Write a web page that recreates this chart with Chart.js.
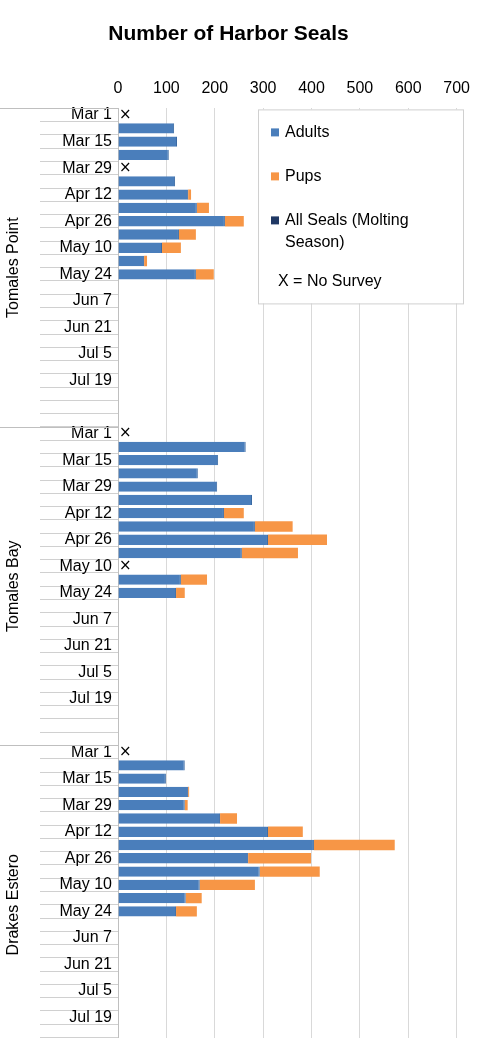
<!DOCTYPE html>
<html><head><meta charset="utf-8">
<script src="https://cdn.jsdelivr.net/npm/chart.js@4/dist/chart.umd.min.js"></script>
<style>html,body{margin:0;padding:0;background:#fff;overflow:hidden}#wrap{width:480px;height:1064px}</style>
</head><body><div id="wrap"><canvas id="c"></canvas></div>
<script>
const groups = ["Tomales Point","Tomales Bay","Drakes Estero"];
const dates = ["Mar 1","Mar 8","Mar 15","Mar 22","Mar 29","Apr 5","Apr 12","Apr 19","Apr 26","May 3","May 10","May 17","May 24","May 31","Jun 7","Jun 14","Jun 21","Jun 28","Jul 5","Jul 12","Jul 19","Jul 26","Aug 2","Aug 9"];
const shownLabels = ["Mar 1","Mar 15","Mar 29","Apr 12","Apr 26","May 10","May 24","Jun 7","Jun 21","Jul 5","Jul 19"];
const adultsTP = [null,116,122,105,null,118,145,163,221,126,91,54,161];
const pupsTP   = [null,0,0,0,null,0,6,25,39,35,39,6,37];
const adultsTB = [null,264,207,165,205,277,219,283,310,256,null,130,120];
const pupsTB   = [null,0,0,0,0,0,41,78,122,116,null,54,18];
const adultsDE = [null,138,99,145,138,211,310,405,269,293,169,140,120];
const pupsDE   = [null,0,0,2,6,35,72,167,130,124,114,33,43];
const noSurveyTP = ["Mar 1","Mar 29"];
const noSurveyTB = ["Mar 1","May 10"];
const noSurveyDE = ["Mar 1"];
const xTicks = [0,100,200,300,400,500,600,700];

const N = dates.length;
const labels = [];
groups.forEach(g => dates.forEach(d => labels.push(g + "|" + d)));
function pad(a){ const r = a.slice(); while (r.length < N) r.push(null); return r; }
const adults = [].concat(pad(adultsTP), pad(adultsTB), pad(adultsDE));
const pups = [].concat(pad(pupsTP), pad(pupsTB), pad(pupsDE));
const molting = labels.map(() => null);
const noSurvey = [noSurveyTP, noSurveyTB, noSurveyDE];

const overlay = {
  id: 'overlay',
  afterDraw(chart) {
    const ctx = chart.ctx, y = chart.scales.y, x = chart.scales.x, ca = chart.chartArea;
    const step = y.getPixelForValue(1) - y.getPixelForValue(0);
    ctx.save();
    ctx.strokeStyle = '#bfbfbf'; ctx.lineWidth = 1;
    groups.forEach((g, gi) => {
      const top = y.getPixelForValue(gi * N) - step / 2;
      ctx.beginPath(); ctx.moveTo(0, Math.round(top) + 0.5); ctx.lineTo(ca.left, Math.round(top) + 0.5); ctx.stroke();
      const mid = top + step * N / 2;
      ctx.save(); ctx.translate(14, mid); ctx.rotate(-Math.PI / 2);
      ctx.fillStyle = '#000'; ctx.font = '16px "Liberation Sans", Arial'; ctx.textAlign = 'center'; ctx.textBaseline = 'middle';
      ctx.fillText(g, 0, 0); ctx.restore();
      ctx.fillStyle = '#000'; ctx.font = '15px "DejaVu Sans"'; ctx.textAlign = 'left'; ctx.textBaseline = 'middle';
      noSurvey[gi].forEach(d => {
        const idx = gi * N + dates.indexOf(d);
        ctx.fillText('×', x.getPixelForValue(0) + 1, y.getPixelForValue(idx));
      });
    });
    const lx = 258, ly = ca.top + 1, lw = 205, lh = 194;
    ctx.fillStyle = '#fff'; ctx.fillRect(lx, ly, lw, lh);
    ctx.strokeStyle = '#d0d0d0'; ctx.strokeRect(lx + 0.5, ly + 0.5, lw, lh);
    ctx.font = '16px "Liberation Sans", Arial'; ctx.textBaseline = 'middle'; ctx.textAlign = 'left';
    const items = [['#4a7ebb', ['Adults'], 23], ['#f79646', ['Pups'], 67], ['#1f3864', ['All Seals (Molting', 'Season)'], 111]];
    items.forEach(([c, t, dy]) => {
      ctx.fillStyle = c; ctx.fillRect(lx + 13, ly + dy - 4, 8, 8);
      ctx.fillStyle = '#000';
      t.forEach((s, i) => ctx.fillText(s, lx + 27, ly + dy + i * 22));
    });
    ctx.fillText('X = No Survey', lx + 20, ly + 172);
    ctx.restore();
  }
};

new Chart(document.getElementById('c'), {
  type: 'bar',
  data: { labels, datasets: [
    { label: 'Adults', data: adults, backgroundColor: '#4a7ebb', borderColor: '#3b6aa3', borderWidth: {right:1}, stack: 's' },
    { label: 'Pups', data: pups, backgroundColor: '#f79646', stack: 's' },
    { label: 'All Seals (Molting Season)', data: molting, backgroundColor: '#1f3864', stack: 's' }
  ]},
  options: {
    indexAxis: 'y', responsive: true, maintainAspectRatio: false, animation: false,
    barPercentage: 0.82, categoryPercentage: 0.95,
    layout: { padding: { left: 0, right: 23, top: 12, bottom: 0 } },
    plugins: {
      legend: { display: false }, tooltip: { enabled: false },
      title: { display: true, text: 'Number of Harbor Seals', color: '#000',
        font: { family: '"Liberation Sans", Arial', size: 21, weight: 'bold' }, padding: { top: 10, bottom: 22 } }
    },
    scales: {
      x: { position: 'top', min: 0, max: 700, afterBuildTicks: a => { a.ticks = xTicks.map(v => ({ value: v })); },
        grid: { color: '#d9d9d9', drawTicks: false }, border: { display: false },
        ticks: { color: '#000', padding: 10, font: { family: '"Liberation Sans", Arial', size: 16 } } },
      y: { stacked: true, offset: true,
        afterFit: a => { a.width = 118; },
        grid: { offset: true, drawOnChartArea: false, color: '#d0d0d0', tickLength: 78 },
        border: { display: true, color: '#bfbfbf' },
        ticks: { autoSkip: false, color: '#000', padding: -72,
          font: { family: '"Liberation Sans", Arial', size: 16 },
          callback: (v, i) => { const d = labels[i].split('|')[1]; return shownLabels.includes(d) ? d : ''; } } }
    }
  },
  plugins: [overlay]
});
</script></body></html>
